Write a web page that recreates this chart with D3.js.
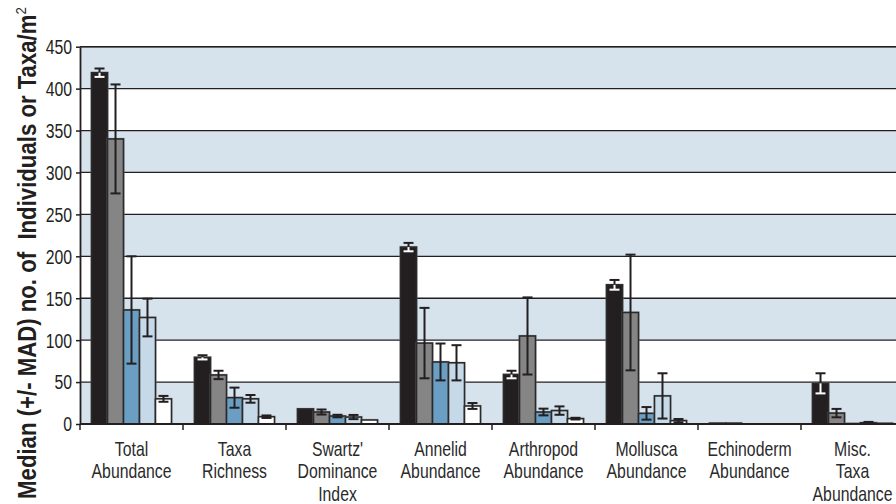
<!DOCTYPE html>
<html><head><meta charset="utf-8">
<script src="https://cdn.jsdelivr.net/npm/d3@7"></script>
<style>html,body{margin:0;padding:0;background:#fff;overflow:hidden}</style>
</head><body>
<svg id="chart" width="896" height="504"></svg>
<script>
const categories = [["Total","Abundance"],["Taxa","Richness"],["Swartz'","Dominance","Index"],["Annelid","Abundance"],["Arthropod","Abundance"],["Mollusca","Abundance"],["Echinoderm","Abundance"],["Misc.","Taxa","Abundance"]];
const seriesNames = ["S1","S2","S3","S4","S5"];
const seriesColors = ["#231f20","#858585","#6a9ec2","#c6d9e8","#ffffff"];
const s1 = [419, 79.5, 18, 211, 59, 166, 1, 48.5];
const s1err = [5, 2.5, 0, 5, 4.5, 5.8, 0, 12];
const s2 = [340, 58.5, 14.3, 96.5, 105, 133, 1, 13];
const s2err = [65, 5, 3, 42, 46, 69, 0, 5];
const s3 = [136, 31.4, 9.5, 74, 14.3, 12.7, 0, 0.5];
const s3err = [64, 12, 1.5, 22, 4, 7.5, 0, 0];
const s4 = [127, 30, 8.3, 73, 16, 33.5, 0, 1.5];
const s4err = [22.5, 4.6, 2.5, 21, 5, 27, 0, 1];
const s5 = [30, 8.7, 4.8, 21.5, 6.4, 4, 0, 0.8];
const s5err = [3.5, 1.5, 0, 3.5, 1, 2, 0, 0];
const yTicks = [0,50,100,150,200,250,300,350,400,450];
const yLabel = "Median (+/- MAD) no. of  Individuals or Taxa/m";

(function(){
const values = [s1,s2,s3,s4,s5];
const errs = [s1err,s2err,s3err,s4err,s5err];

const svg = d3.select("#chart");
const mLeft = 80, mRight = 904, mTop = 46.7, mBottom = 424;
const y = d3.scaleLinear().domain([0,450]).range([mBottom, mTop]);
const x = d3.scaleBand().domain(d3.range(categories.length)).range([mLeft, mRight]).padding(0);
const step = x.bandwidth();
const xs = d3.scaleBand().domain(d3.range(seriesNames.length)).range([0, step]).paddingInner(0).paddingOuter(0.72);
const FONT = "'Liberation Sans',Arial,sans-serif";
const NARROW = 0.77;

const bands = [];
for (let i = 0; i < yTicks.length - 1; i++) if (i % 2 === 0) bands.push([yTicks[i], yTicks[i+1]]);
svg.append("g").selectAll("rect").data(bands).join("rect")
  .attr("x", mLeft).attr("width", mRight-mLeft)
  .attr("y", d => y(d[1])).attr("height", d => y(d[0]) - y(d[1]))
  .attr("fill", "#d6e3ed");

svg.append("g").selectAll("line").data(yTicks.filter(t=>t>0)).join("line")
  .attr("x1", mLeft).attr("x2", mRight).attr("y1", d=>y(d)).attr("y2", d=>y(d))
  .attr("stroke", "#231f20").attr("stroke-width", 1.3);

const g = svg.append("g");
values.forEach((vals, si) => {
  const sg = g.append("g");
  sg.selectAll("rect.sh").data(vals).join("rect").attr("class","sh")
    .attr("x", (d,i) => x(i) + xs(si) - 1.2)
    .attr("width", xs.bandwidth() + 2.4)
    .attr("y", d => y(d) - 1.2)
    .attr("height", d => Math.max(0, mBottom - y(d)) + 2)
    .attr("fill", "#8a8a8a").attr("opacity", d => d > 0 ? 0.45 : 0);
  sg.selectAll("rect.b").data(vals).join("rect").attr("class","b")
    .attr("x", (d,i) => x(i) + xs(si))
    .attr("width", xs.bandwidth())
    .attr("y", d => y(d))
    .attr("height", d => Math.max(0, mBottom - y(d)))
    .attr("fill", seriesColors[si])
    .attr("stroke", "#2a2a2a").attr("stroke-width", d => d > 0 ? 1.6 : 0);
});

values.forEach((vals, si) => {
  const eg = svg.append("g");
  vals.forEach((v, i) => {
    const e = errs[si][i];
    if (!(e > 0)) return;
    const cx = x(i) + xs(si) + xs.bandwidth()/2;
    const hw = 5;
    const lowColor = si === 0 ? "#ffffff" : "#231f20";
    const lo = Math.max(0, v - e);
    eg.append("line").attr("x1",cx).attr("x2",cx).attr("y1",y(v+e)).attr("y2",y(v)).attr("stroke","#231f20").attr("stroke-width",2);
    eg.append("line").attr("x1",cx-hw).attr("x2",cx+hw).attr("y1",y(v+e)).attr("y2",y(v+e)).attr("stroke","#231f20").attr("stroke-width",2);
    eg.append("line").attr("x1",cx).attr("x2",cx).attr("y1",y(v)).attr("y2",y(lo)).attr("stroke",lowColor).attr("stroke-width",2);
    eg.append("line").attr("x1",cx-hw).attr("x2",cx+hw).attr("y1",y(lo)).attr("y2",y(lo)).attr("stroke",lowColor).attr("stroke-width",2);
  });
});

svg.append("line").attr("x1",mLeft).attr("x2",mRight).attr("y1",mTop).attr("y2",mTop).attr("stroke","#231f20").attr("stroke-width",1.6);

// y axis (line + ticks via d3 axis, labels drawn condensed)
const yAxis = svg.append("g").attr("transform", `translate(${mLeft},0)`)
  .call(d3.axisLeft(y).tickValues(yTicks).tickSize(4).tickFormat("").tickSizeOuter(0));
yAxis.select(".domain").attr("stroke","#231f20").attr("stroke-width",1.8);
yAxis.selectAll(".tick line").attr("stroke","#231f20").attr("stroke-width",1.5);
svg.append("g").selectAll("g").data(yTicks).join("g")
  .attr("transform", d => `translate(72,${y(d)}) scale(${NARROW},1)`)
  .append("text").attr("text-anchor","end").attr("dy","0.36em")
  .attr("font-family",FONT).attr("font-size",20.5).attr("fill","#231f20")
  .text(d => d);

svg.append("line").attr("x1",mLeft).attr("x2",mRight).attr("y1",mBottom).attr("y2",mBottom).attr("stroke","#231f20").attr("stroke-width",1.8);
svg.append("g").selectAll("line").data(d3.range(categories.length+1)).join("line")
  .attr("x1", d => mLeft + d*step).attr("x2", d => mLeft + d*step)
  .attr("y1", mBottom).attr("y2", mBottom+6).attr("stroke","#231f20").attr("stroke-width",1.5);

const xl = svg.append("g");
categories.forEach((lines, i) => {
  const t = xl.append("g").attr("transform", `translate(${x(i) + step/2},0) scale(${NARROW},1)`)
    .append("text").attr("text-anchor","middle")
    .attr("font-family",FONT).attr("font-size",20.5).attr("fill","#2a2a2a");
  lines.forEach((ln, k) => {
    t.append("tspan").attr("x", 0).attr("y", 456 + k*22.5).text(ln);
  });
});

const ylg = svg.append("g");
const yl = ylg.append("text")
  .attr("text-anchor","middle")
  .attr("font-family",FONT).attr("font-weight","bold").attr("font-size",25).attr("fill","#231f20")
  .style("white-space","pre");
yl.append("tspan").text(yLabel);
yl.append("tspan").attr("dy",-10).attr("font-size",15).attr("font-weight","normal").text("2");
const len = yl.node().getComputedTextLength();
const sc = 492 / len;
ylg.attr("transform", `translate(36,253) rotate(-90) scale(${sc},1)`);
})();
</script>
</body></html>
